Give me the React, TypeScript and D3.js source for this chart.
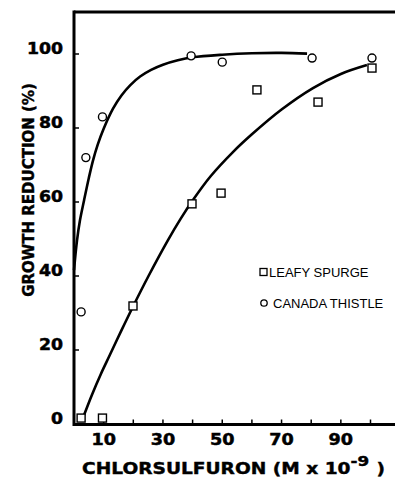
import React from "react";
import * as d3 from "d3";

// Observed data points
const thistleX = [2.4, 4, 9.6, 39.5, 50, 80.3, 100.5];
const thistleY = [30.3, 72, 83, 99.5, 97.8, 98.9, 98.9];
const spurgeX = [2.4, 9.6, 19.9, 39.8, 49.6, 61.7, 82.3, 100.5];
const spurgeY = [1.6, 1.6, 31.9, 59.5, 62.4, 90.3, 87, 96.2];

// Fitted curves
const thistleFitX = [0, 1, 2, 3.4, 5, 6.4, 8, 10, 13.2, 16, 19, 22.3, 26, 30, 35, 40, 50, 60, 70, 78.6];
const thistleFitY = [41.6, 49.5, 55, 60.5, 66.5, 71.2, 75.5, 79.8, 85.3, 88.8, 91.6, 93.9, 95.7, 97.1, 98.3, 99.1, 99.8, 100.2, 100.3, 100.1];
const spurgeFitX = [3, 6, 9, 12, 16, 20, 25, 31.7, 36, 40, 46, 53.6, 60, 70, 80.6, 90, 98.8];
const spurgeFitY = [1.6, 7.8, 13.4, 18.5, 25.3, 31.9, 39.8, 49.7, 55.5, 60.4, 66.9, 73.5, 78.3, 85, 90.8, 94.6, 97];

const yTickValues = [0, 20, 40, 60, 80, 100];
const xTickValues = [10, 20, 30, 40, 50, 60, 70, 80, 90, 100];
const xLabelValues = [10, 30, 50, 70, 90];
const legendLabels = ["LEAFY SPURGE", "CANADA THISTLE"];

const W = 395;
const H = 479;
const left = 74;
const top = 12;
const bottom = 424.5;

export default function App() {
  const x = d3.scaleLinear().domain([0, 100]).range([left, 370.5]);
  const y = d3.scaleLinear().domain([0, 100]).range([424, 54]);

  const line = d3
    .line<[number, number]>()
    .x((d) => x(d[0]))
    .y((d) => y(d[1]))
    .curve(d3.curveCatmullRom.alpha(0.5));

  const thistleFit = thistleFitX.map((v, i) => [v, thistleFitY[i]] as [number, number]);
  const spurgeFit = spurgeFitX.map((v, i) => [v, spurgeFitY[i]] as [number, number]);

  const bold = "'DejaVu Sans', sans-serif";
  const sans = "'Liberation Sans', Arial, sans-serif";

  return (
    <svg
      width={W}
      height={H}
      style={{ position: "absolute", left: 0, top: 0, background: "#fff" }}
    >
      <rect x={0} y={0} width={W} height={H} fill="#fff" />
      {/* frame */}
      <line x1={left} x2={W} y1={top} y2={top} stroke="#000" strokeWidth={3} />
      <line x1={left} x2={left} y1={top - 1.5} y2={bottom + 1.5} stroke="#000" strokeWidth={3} />
      <line x1={left} x2={W} y1={bottom} y2={bottom} stroke="#000" strokeWidth={3} />

      {/* y ticks */}
      {yTickValues.map((v) => (
        <g key={"y" + v}>
          <line x1={left} x2={left + 5} y1={y(v)} y2={y(v)} stroke="#000" strokeWidth={1.5} />
          <text
            transform={`translate(63,${y(v)}) scale(1.08,1)`}
            textAnchor="end"
            fontFamily={bold}
            fontWeight="bold"
            fontSize={16}
            stroke="#000"
            strokeWidth={0.5}
          >
            {v}
          </text>
        </g>
      ))}
      {/* x ticks */}
      {xTickValues.map((v) => (
        <line key={"x" + v} x1={x(v)} x2={x(v)} y1={bottom} y2={bottom - 5} stroke="#000" strokeWidth={1.5} />
      ))}
      {xLabelValues.map((v) => (
        <text
          key={"xl" + v}
          transform={`translate(${x(v)},445) scale(1.1,1)`}
          textAnchor="middle"
          fontFamily={bold}
          fontWeight="bold"
          fontSize={16}
          stroke="#000"
          strokeWidth={0.5}
        >
          {v}
        </text>
      ))}

      {/* axis titles */}
      <text
        transform="translate(34,190) rotate(-90)"
        textAnchor="middle"
        fontFamily={bold}
        fontWeight="bold"
        fontSize={15}
        stroke="#000"
        strokeWidth={0.4}
      >
        GROWTH REDUCTION (%)
      </text>
      <text
        transform="translate(82,474) scale(1.2,1)"
        fontFamily={bold}
        fontWeight="bold"
        fontSize={15.5}
        stroke="#000"
        strokeWidth={0.4}
      >
        CHLORSULFURON (M x 10
        <tspan dy={-8} fontSize={14}>-9</tspan>
        <tspan dy={8} dx={6}>)</tspan>
      </text>

      {/* fitted curves */}
      <path d={line(thistleFit) || ""} fill="none" stroke="#000" strokeWidth={2.6} />
      <path d={line(spurgeFit) || ""} fill="none" stroke="#000" strokeWidth={2.6} />

      {/* markers */}
      {thistleX.map((v, i) => (
        <circle
          key={"c" + i}
          cx={x(v)}
          cy={y(thistleY[i])}
          r={4}
          fill="#fff"
          stroke="#000"
          strokeWidth={1.4}
        />
      ))}
      {spurgeX.map((v, i) => (
        <rect
          key={"s" + i}
          x={x(v) - 4}
          y={y(spurgeY[i]) - 4}
          width={8}
          height={8}
          fill="#fff"
          stroke="#000"
          strokeWidth={1.4}
        />
      ))}

      {/* legend */}
      <rect x={260} y={268.5} width={7} height={7} fill="#fff" stroke="#000" strokeWidth={1.3} />
      <text x={269} y={277} fontFamily={sans} fontSize={13}>
        {legendLabels[0]}
      </text>
      <circle cx={264} cy={303} r={3.2} fill="#fff" stroke="#000" strokeWidth={1.3} />
      <text x={273} y={307.5} fontFamily={sans} fontSize={13}>
        {legendLabels[1]}
      </text>
    </svg>
  );
}
